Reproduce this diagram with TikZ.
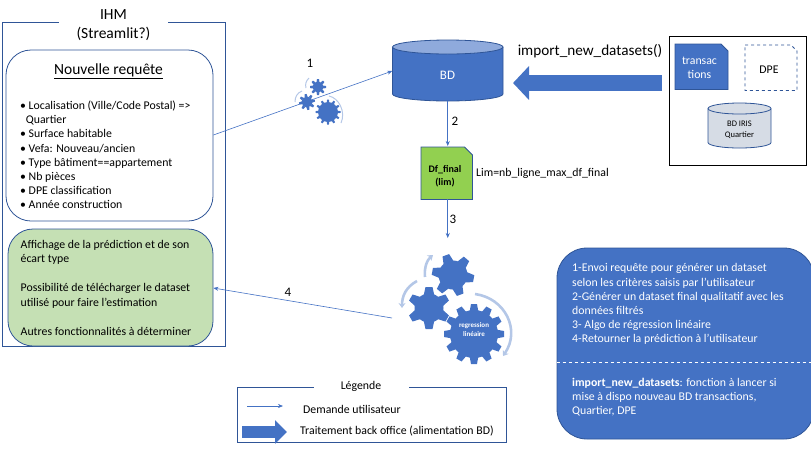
\documentclass[tikz,border=0pt]{standalone}
\usepackage{fontspec}
\setmainfont{Carlito}
\usetikzlibrary{arrows.meta}
\definecolor{bluefill}{HTML}{4472C4}
\definecolor{blueedge}{HTML}{2F5597}
\definecolor{bluetop}{HTML}{8FAADC}
\definecolor{bluearc}{HTML}{B4C7E7}
\definecolor{greenbox}{HTML}{C5E0B4}
\definecolor{greendoc}{HTML}{92D050}
\definecolor{greyiris}{HTML}{D6DCE5}
\tikzset{lab/.style = {font=\fontsize{11.8}{14.2}\selectfont, inner sep=0pt},
  labc/.style = {lab, align=center},
  labl/.style = {lab, align=left, anchor=west},
  frame/.style = {draw=blueedge, thick},
  blocbox/.style = {frame, rounded corners=25pt, inner sep=0pt},
  demande/.style = {->, >={Stealth[length=5pt,width=4pt]}, draw=bluefill, semithick},
  arcline/.style = {draw=bluearc, line width=2.6pt, -{Stealth[length=5pt,width=7pt]}},
  smallarc/.style = {draw=bluearc, line width=1pt}}
% x, y, body radius, tip radius, teeth, phase, half width of a tooth
\newcommand{\gearwheel}[7]{
  \fill[bluefill] (#1,#2) circle (#3);
  \foreach \i in {1,...,#5}
    \fill[bluefill, shift={(#1,#2)}, rotate=#6+\i*360/#5]
      (-#7*1.5,#3*.9) -- (-#7,#4) -- (#7,#4) -- (#7*1.5,#3*.9) -- cycle;
}
% x1, y1, x2, y2, corner cut
\newcommand{\snipdoc}[6][]{
  \path[#1] (#2,#3) -- (#4-#6,#3) -- (#4,#3+#6) -- (#4,#5) -- (#2,#5) -- cycle;
}
% x1, y1, x2, y2, end radius, body colour, top colour
\newcommand{\cuve}[7]{
  \filldraw[frame, fill=#6] (#1,#2+#5) -- (#1,#4-#5)
    arc[start angle=180, end angle=360, x radius={(#3-#1)/2}, y radius=-#5]
    -- (#3,#2+#5);
  \filldraw[frame, fill=#7] ({(#1+#3)/2},#2+#5) ellipse [x radius={(#3-#1)/2}, y radius=#5];
}
\begin{document}
\begin{tikzpicture}[x=1pt, y=-1pt]
  \useasboundingbox (0,0) rectangle (811,448);

  % IHM
  \draw[frame] (2.5,22.5) rectangle (225,346);
  \node[labc, fill=white, minimum width=109pt, font=\fontsize{15.5}{19}\selectfont] (ihm) at (113.5,25) {IHM\\(Streamlit?)};
  \node[blocbox, minimum width=207pt, minimum height=171pt] (requete) at (109.5,135.5) {};
  \node[lab, font=\fontsize{15.5}{16}\selectfont] (requetetitre) at (108.5,71) {\underline{Nouvelle requête}};
  \node[labl] (criteres) at (20,155) {\textbullet\ Localisation (Ville/Code Postal) =>\\
    \hspace*{5.7pt}Quartier\\
    \textbullet\ Surface habitable\\
    \textbullet\ Vefa: Nouveau/ancien\\
    \textbullet\ Type bâtiment==appartement\\
    \textbullet\ Nb pièces\\
    \textbullet\ DPE classification\\
    \textbullet\ Année construction};
  \node[blocbox, fill=greenbox, minimum width=205pt, minimum height=117pt] (retour) at (110.5,287.5) {};
  \node[labl, anchor=north west] (retourtexte) at (20.5,240) {Affichage de la prédiction et de son\\
    écart type\\[15pt]
    Possibilité de télécharger le dataset\\
    utilisé pour faire l’estimation\\[15pt]
    Autres fonctionnalités à déterminer};

  % BD
  \cuve{392.5}{40}{503}{101}{7}{bluefill}{bluetop}
  \node[minimum width=110.5pt, minimum height=61pt, inner sep=0pt] (bd) at (447.75,70.5) {};
  \node[lab, text=white, font=\fontsize{13}{14}\selectfont] (bdtexte) at (447.5,75) {BD};
  \node[lab, font=\fontsize{15.2}{16}\selectfont] (importtitre) at (590,51) {import\_new\_datasets()};
  \coordinate (importqueue) at (662,83);
  \coordinate (importpointe) at (513,83);
  \draw[draw=bluefill, line width=16pt, -{Triangle[length=16pt,width=33pt]}] (importqueue) -- (importpointe);

  % sources
  \draw[black, thick] (669,36) rectangle (806,165);
  \snipdoc[fill=bluefill, draw=blueedge, thick]{675}{44}{728}{89.5}{7}
  \node[labc, text=white] (transac) at (699.5,68) {transac\\tions};
  \snipdoc[draw=blueedge, thick, dashed]{745}{45}{797}{90.5}{6}
  \node[lab] (dpe) at (769,70) {DPE};
  \cuve{708}{103}{771}{148}{5.5}{greyiris}{greyiris}
  \node[labc, font=\fontsize{8.5}{11}\selectfont] (iristexte) at (739.5,130) {BD IRIS\\Quartier};

  % df final
  \snipdoc[fill=greendoc, draw=blueedge, thick]{421}{147}{472.5}{199.5}{8}
  \node[minimum width=51.5pt, minimum height=52.5pt, inner sep=0pt] (dffinal) at (447,173) {};
  \node[labc, font=\fontsize{10}{12.5}\selectfont\bfseries] (dftexte) at (445,176) {Df\_final\\(lim)};
  \node[labl] (lim) at (476,173) {Lim=nb\_ligne\_max\_df\_final};

  % regression
  \gearwheel{453}{275}{14.5}{21}{6}{20}{3.5}
  \gearwheel{429}{308}{14.5}{21}{6}{0}{3.5}
  \gearwheel{474}{334}{24}{30}{12}{0}{3}
  \node[labc, text=white, font=\fontsize{7}{9}\selectfont\bfseries] (regression) at (474,330) {regression\\linéaire};
  \coordinate (regressiongauche) at (392,318);
  \draw[arcline] (475,294) .. controls (505,298) and (521,330) .. (503,356);
  \draw[arcline] (417,281) .. controls (406,287) and (402,296) .. (402,308);
  \draw[arcline] (425,277) .. controls (424,268) and (427,260) .. (433,255);

  % connecteurs
  \draw[demande] (requete.east |- 0,135) -- (bd.west |- 0,71);
  \draw[demande] (bd.south) -- (447.75,146);
  \draw[demande] (dffinal.south -| 447.75,0) -- (447.75,238);
  \draw[demande] (regressiongauche) -- (retour.east |- 0,288);
  \node[lab] (un) at (310,63) {\fontsize{13}{14}\selectfont 1};
  \node[lab] (deux) at (455,121) {\fontsize{13}{14}\selectfont 2};
  \node[lab] (trois) at (453,219) {\fontsize{13}{14}\selectfont 3};
  \node[lab] (quatre) at (288,292) {\fontsize{13}{14}\selectfont 4};

  % petits engrenages
  \gearwheel{318}{87}{5.5}{8}{8}{0}{1}
  \gearwheel{307}{102}{5.5}{8}{8}{10}{1}
  \gearwheel{328}{112}{10}{12.5}{12}{0}{.9}
  \draw[smallarc] (329,96) .. controls (339,98) and (346,112) .. (341,123);
  \draw[smallarc] (302,91) .. controls (297,93) and (295,97) .. (295,102);
  \draw[smallarc] (309,78) .. controls (306,81) and (305,84) .. (306,88);

  % bloc bleu
  \node[blocbox, rounded corners=30pt, fill=bluefill, minimum width=257pt, minimum height=191pt] (notes) at (685.5,343.5) {};
  \node[labl, anchor=north west, text=white] (etapes) at (572,263.5) {1-Envoi requête pour générer un dataset\\
    selon les critères saisis par l’utilisateur\\
    2-Générer un dataset final qualitatif avec les\\
    données filtrés\\
    3- Algo de régression linéaire\\
    4-Retourner la prédiction à l’utilisateur};
  \coordinate (sepgauche) at (notes.west |- 0,362);
  \coordinate (sepdroite) at (811,362);
  \draw[white, dashed] (sepgauche) -- (sepdroite);
  \node[labl, anchor=north west, text=white] (importnote) at (572,378) {\textbf{import\_new\_datasets}: fonction à lancer si\\
    mise à dispo nouveau BD transactions,\\
    Quartier, DPE};

  % legende
  \draw[frame] (237,387) rectangle (506,442);
  \node[lab, fill=white, minimum width=95pt, minimum height=12pt] (legende) at (361,386) {Légende};
  \coordinate (demandea) at (247,406);
  \coordinate (demandeb) at (283,406);
  \draw[demande] (demandea) -- (demandeb);
  \node[labl] (demandetexte) at (303,409) {Demande utilisateur};
  \coordinate (traitementa) at (242,432);
  \coordinate (traitementb) at (287,432);
  \draw[draw=bluefill, line width=12pt, -{Triangle[length=12pt,width=23pt]}] (traitementa) -- (traitementb);
  \node[labl] (traitementtexte) at (300,431) {Traitement back office (alimentation BD)};
\end{tikzpicture}
\end{document}
